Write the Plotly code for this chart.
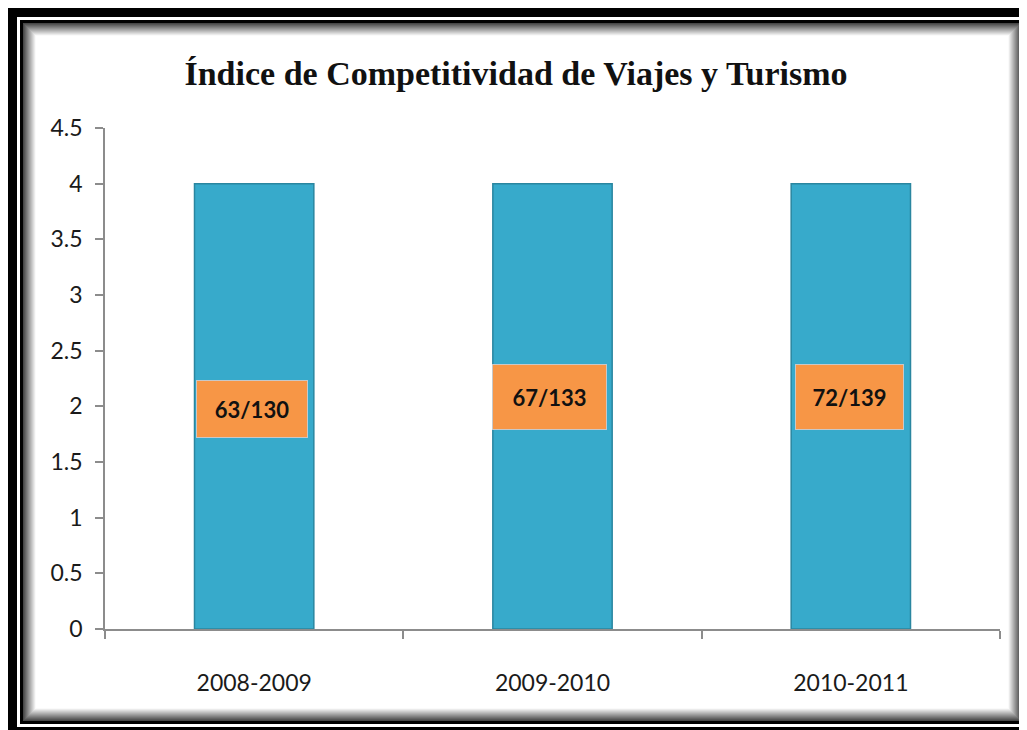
import plotly.graph_objects as go

# ---- data ----
periods = ["2008-2009", "2009-2010", "2010-2011"]
values = [4, 4, 4]
rank_labels = ["63/130", "67/133", "72/139"]
title_text = "Índice de Competitividad de Viajes y Turismo"

# ---- style ----
OFF = 8                      # page body margin of the browser
W_PX, H_PX = 1027 - OFF, 730 - OFF
# plot-area edges in screenshot pixels
L, R, T, B = 105, 1000, 128, 629
PW, PH = R - L, B - T
label_yshift = [-3, 9, 9]
label_xshift = [-2, -3, -1]
label_w = [110, 113, 107]
label_h = [56, 64, 64]


def px(x):
    return (x - L) / PW


def py(y):
    return (B - y) / PH


shapes = []


def rect(x0, y0, x1, y1, color):
    shapes.append(dict(type="rect", xref="paper", yref="paper", layer="below",
                       x0=px(x0), x1=px(x1), y0=py(y1), y1=py(y0),
                       fillcolor=color, line=dict(width=0)))


rect(0, 0, 1080, 780, "black")
rect(17, 17, 1025, 727, "white")
rect(20, 20, 1024, 724, "black")
for i in range(13):
    g = min(255, 70 + i * 15)
    rect(23 + i, 23 + i, 1021 - i, 721 - i, f"rgb({g},{g},{g})")
rect(36, 36, 1008, 708, "white")

fig = go.Figure()
fig.add_trace(go.Bar(
    x=periods, y=values, width=0.4,
    marker=dict(color="#37AACB", line=dict(color="#2A86A0", width=1.5)),
    hoverinfo="skip", showlegend=False,
))

annotations = []
for i, (p, v, lab) in enumerate(zip(periods, values, rank_labels)):
    annotations.append(dict(
        x=p, y=v / 2, xref="x", yref="y", text=f"<b>{lab}</b>", showarrow=False,
        font=dict(family="Lato", size=22, color="#111111"),
        bgcolor="#F79646", bordercolor="#C8C8C8", borderwidth=1, borderpad=0,
        width=label_w[i], height=label_h[i],
        yshift=label_yshift[i], xshift=label_xshift[i],
    ))

fig.update_layout(
    width=W_PX, height=H_PX, autosize=False,
    margin=dict(l=L - OFF, r=1027 - R, t=T - OFF, b=730 - B, pad=0),
    paper_bgcolor="white", plot_bgcolor="rgba(0,0,0,0)",
    shapes=shapes, annotations=annotations,
    title=dict(text=f"<b>{title_text}</b>", x=(516 - OFF) / W_PX, xanchor="center",
               y=1 - (73 - OFF) / H_PX, yanchor="middle", xref="container", yref="container",
               font=dict(family="Liberation Serif", size=34, color="#111111")),
    xaxis=dict(type="category", range=[-0.5, 2.5], showline=True, linecolor="#8C8C8C",
               linewidth=1.5, ticks="outside", tickson="boundaries", ticklen=8,
               tickcolor="#8C8C8C", tickwidth=1.5, showgrid=False,
               tickfont=dict(family="Lato", size=23, color="#1a1a1a"),
               ticklabelstandoff=33),
    yaxis=dict(range=[0, 4.5], tick0=0, dtick=0.5, showline=True, linecolor="#8C8C8C",
               linewidth=1.5, ticks="outside", ticklen=8, tickcolor="#8C8C8C",
               tickwidth=1.5, showgrid=False, zeroline=False,
               tickfont=dict(family="Lato", size=23, color="#1a1a1a"),
               ticklabelstandoff=8),
)

fig.write_html("out.html")
